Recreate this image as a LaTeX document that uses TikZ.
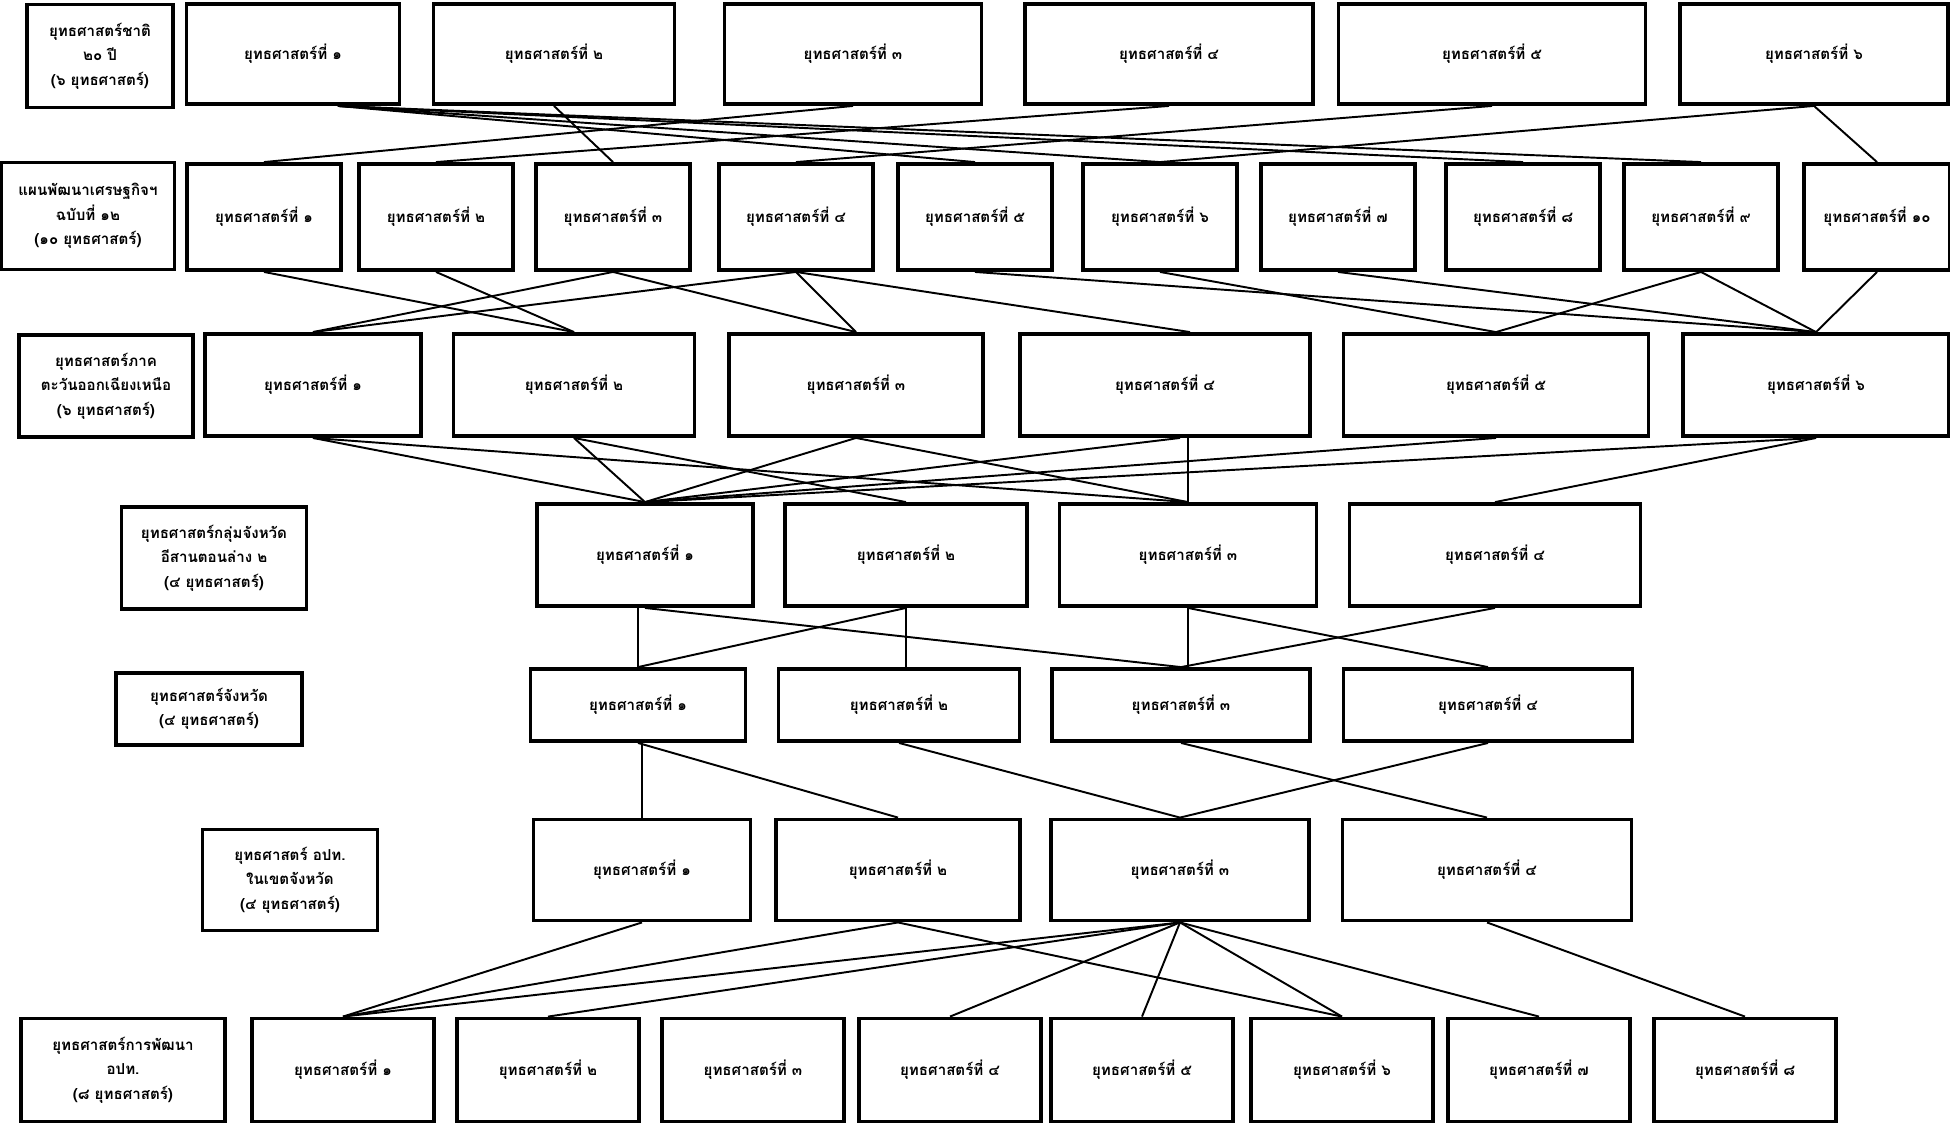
\documentclass[tikz,border=0pt]{standalone}
\usepackage{fontspec}
\usepackage{tikz}
\usetikzlibrary{calc}
\newfontfamily\thaifont[Script=Thai]{Loma}

\begin{document}
\begin{tikzpicture}[x=0.2mm,y=-0.2mm,
   box/.style={draw,line width=2.2pt,inner sep=1pt,align=center,
     font=\thaifont\bfseries\fontsize{8.6}{14}\selectfont},
   link/.style={line width=1.1pt},
   vlink/.style={line width=0.6pt}]
  \useasboundingbox (0,0) rectangle (1950,1125);
  % ---------- row 1: national strategy ----------
  \node[box,minimum width=29.2mm,minimum height=20.6mm] (l1) at (100,56)
    {ยุทธศาสตร์ชาติ\\๒๐ ปี\\(๖ ยุทธศาสตร์)};
  \foreach \idx/\cx/\bw/\dig in {1/293/42.6/๑,2/554/48.2/๒,3/853/51.4/๓,
      4/1169/57.6/๔,5/1492/61.4/๕,6/1814/53.6/๖}
    {\node[box,minimum width=\bw mm,minimum height=20mm] (a\idx) at (\cx,54)
      {ยุทธศาสตร์ที่ \dig};}
  % ---------- row 2: economic plan ----------
  \node[box,minimum width=34.6mm,minimum height=21.4mm] (l2) at (88,216)
    {แผนพัฒนาเศรษฐกิจฯ\\ฉบับที่ ๑๒\\(๑๐ ยุทธศาสตร์)};
  \foreach \idx/\cx/\bw/\dig in {1/264/30.8/๑,2/436/30.8/๒,3/613/30.8/๓,
      4/796/30.8/๔,5/975/30.8/๕,6/1160/30.8/๖,7/1338/30.8/๗,8/1523/30.8/๘,
      9/1701/30.8/๙,10/1877/29.2/๑๐}
    {\node[box,minimum width=\bw mm,minimum height=21.2mm] (b\idx) at (\cx,217)
      {ยุทธศาสตร์ที่ \dig};}
  % ---------- row 3: region ----------
  \node[box,minimum width=34.8mm,minimum height=20.4mm] (l3) at (106,386)
    {ยุทธศาสตร์ภาค\\ตะวันออกเฉียงเหนือ\\(๖ ยุทธศาสตร์)};
  \foreach \idx/\cx/\bw/\dig in {1/313/43.2/๑,2/574/48.2/๒,3/856/50.8/๓,
      4/1165/58/๔,5/1496/61/๕,6/1816/53.2/๖}
    {\node[box,minimum width=\bw mm,minimum height=20.4mm] (c\idx) at (\cx,385)
      {ยุทธศาสตร์ที่ \dig};}
  % ---------- row 4: province group ----------
  \node[box,minimum width=37mm,minimum height=20.4mm] (l4) at (214,558)
    {ยุทธศาสตร์กลุ่มจังหวัด\\อีสานตอนล่าง ๒\\(๔ ยุทธศาสตร์)};
  \foreach \idx/\cx/\bw/\dig in {1/645/43.2/๑,2/906/48.4/๒,3/1188/51.4/๓,
      4/1495/58.2/๔}
    {\node[box,minimum width=\bw mm,minimum height=20.4mm] (d\idx) at (\cx,555)
      {ยุทธศาสตร์ที่ \dig};}
  % ---------- row 5: province ----------
  \node[box,minimum width=37.2mm,minimum height=14.4mm] (l5) at (209,709)
    {ยุทธศาสตร์จังหวัด\\(๔ ยุทธศาสตร์)};
  \foreach \idx/\cx/\bw/\dig in {1/638/43/๑,2/899/48.2/๒,3/1181/51.6/๓,
      4/1488/57.8/๔}
    {\node[box,minimum width=\bw mm,minimum height=14.4mm] (e\idx) at (\cx,705)
      {ยุทธศาสตร์ที่ \dig};}
  % ---------- row 6: local bodies in the province ----------
  \node[box,minimum width=35mm,minimum height=20.2mm] (l6) at (290,880)
    {ยุทธศาสตร์ อปท.\\ในเขตจังหวัด\\(๔ ยุทธศาสตร์)};
  \foreach \idx/\cx/\bw/\dig in {1/642/43.4/๑,2/898/48.8/๒,3/1180/51.6/๓,
      4/1487/57.8/๔}
    {\node[box,minimum width=\bw mm,minimum height=20.2mm] (f\idx) at (\cx,870)
      {ยุทธศาสตร์ที่ \dig};}
  % ---------- row 7: local development ----------
  \node[box,minimum width=40.8mm,minimum height=20.6mm] (l7) at (123,1070)
    {ยุทธศาสตร์การพัฒนา\\อปท.\\(๘ ยุทธศาสตร์)};
  \foreach \idx/\cx/\dig in {1/343/๑,2/548/๒,3/753/๓,4/950/๔,5/1142/๕,
      6/1342/๖,7/1539/๗,8/1745/๘}
    {\node[box,minimum width=36.4mm,minimum height=20.6mm] (g\idx) at (\cx,1070)
      {ยุทธศาสตร์ที่ \dig};}

  % links 1 -> 2
  \foreach \s/\e in {a1/b5,a1/b6,a1/b8,a1/b9}
    {\draw[link] ([xshift=9mm]\s.south) -- (\e.north);}
  \foreach \s/\e in {a2/b3,a3/b1,a4/b2,a5/b4,a6/b6,a6/b10}
    {\draw[link] (\s.south) -- (\e.north);}
  % links 2 -> 3
  \foreach \s/\e in {b1/c2,b2/c2,b3/c1,b3/c3,b4/c1,b4/c3,b5/c6,b6/c5,
      b7/c6,b9/c5,b9/c6,b10/c6}
    {\draw[link] (\s.south) -- (\e.north);}
  \draw[link] (b4.south) -- ([xshift=5mm]c4.north);
  % links 3 -> 4
  \foreach \s/\e in {c1/d1,c1/d3,c2/d1,c2/d2,c3/d1,c3/d3,c5/d1,c6/d1,c6/d4}
    {\draw[link] (\s.south) -- (\e.north);}
  \draw[link] ([xshift=3mm]c4.south) -- (d1.north);
  \draw[vlink] (d3.north) -- (d3.north |- c4.south);
  % links 4 -> 5
  \foreach \s/\e in {d1/e3,d2/e1,d3/e4,d4/e3}
    {\draw[link] (\s.south) -- (\e.north);}
  \draw[vlink] (e1.north) -- (e1.north |- d1.south);
  \draw[vlink] (d2.south) -- (d2.south |- e2.north);
  \draw[vlink] (d3.south) -- (d3.south |- e3.north);
  % links 5 -> 6
  \foreach \s/\e in {e1/f2,e2/f3,e3/f4,e4/f3}
    {\draw[link] (\s.south) -- (\e.north);}
  \draw[vlink] (f1.north) -- (f1.north |- e1.south);
  % links 6 -> 7
  \foreach \s/\e in {f1/g1,f2/g1,f2/g6,f3/g1,f3/g2,f3/g4,f3/g5,f3/g6,
      f3/g7,f4/g8}
    {\draw[link] (\s.south) -- (\e.north);}
\end{tikzpicture}
\end{document}
